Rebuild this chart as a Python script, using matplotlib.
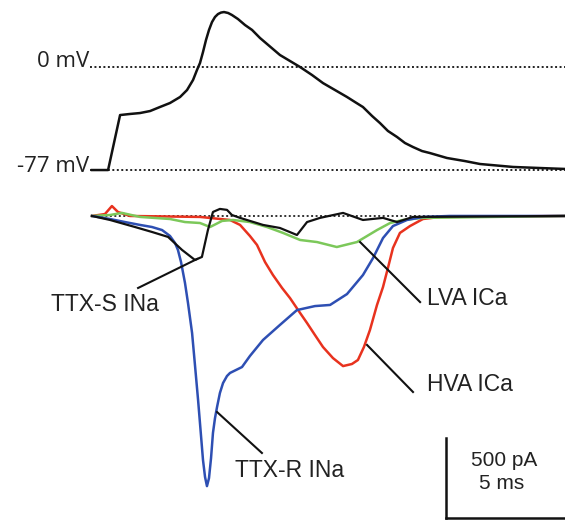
import matplotlib.pyplot as plt

# voltage command (ms, mV)
v_t = [0, 0.67, 1.17, 1.58, 2.0, 2.42, 2.83, 3.25, 3.67, 3.96, 4.21, 4.375, 4.5,
       4.625, 4.75, 4.875, 5.0, 5.125, 5.25, 5.375, 5.5, 5.67, 5.83, 6.08, 6.375,
       6.67, 7.0, 7.83, 8.25, 8.67, 9.17, 9.625, 10.125, 10.625, 10.96, 11.29,
       11.67, 12.0, 12.33, 12.71, 13.04, 13.375, 13.75, 14.08, 14.79, 15.54,
       16.17, 17.54, 18.67, 19.71]
v_mv = [-77, -77, -35.9, -35.1, -34.4, -32.9, -29.9, -26.9, -22.4, -17.2, -9.7,
        -2.2, 3.0, 11.2, 20.2, 27.7, 33.6, 37.4, 39.6, 40.7, 41.1, 40.4, 38.9,
        35.9, 31.4, 27.7, 21.7, 9.0, 4.5, 0, -6.0, -12.0, -17.2, -22.4, -26.2,
        -29.9, -36.6, -41.9, -47.8, -52.3, -56.8, -59.8, -62.8, -64.3, -68.0,
        -70.3, -72.5, -74.7, -75.5, -76.2]

# TTX-R INa (blue)
ttxr_t = [0, 0.75, 1.375, 2.0, 2.5, 2.92, 3.25, 3.46, 3.58, 3.71, 3.875, 4.0,
          4.17, 4.29, 4.42, 4.54, 4.625, 4.71, 4.79, 4.875, 4.96, 5.04, 5.125,
          5.21, 5.33, 5.46, 5.625, 5.75, 6.25, 6.58, 7.125, 7.83, 8.54, 9.29,
          9.92, 10.625, 11.29, 11.71, 12.125, 12.54, 13.125, 13.79, 14.9, 19.7]
ttxr_pa = [0, -19, -38, -56, -69, -88, -125, -169, -212, -288, -419, -544,
           -731, -931, -1150, -1369, -1525, -1631, -1688, -1638, -1513, -1356,
           -1263, -1194, -1106, -1044, -1000, -981, -944, -875, -775, -681, -588,
           -563, -556, -488, -369, -263, -138, -63, -25, -6, 0, 0]

# HVA ICa (red)
hva_t = [0, 0.54, 0.83, 1.08, 1.58, 4.5, 5.75, 6.17, 6.58, 6.875, 7.21, 7.54,
         7.92, 8.25, 8.67, 8.96, 9.29, 9.625, 10.04, 10.46, 10.83, 11.08, 11.33,
         11.58, 11.875, 12.125, 12.33, 12.54, 12.83, 13.25, 13.79, 14.5, 19.7]
hva_pa = [0, 12, 62, 25, 0, -6, -25, -56, -125, -181, -288, -369, -450, -513,
          -606, -669, -744, -819, -888, -938, -925, -900, -819, -713, -556, -444,
          -325, -200, -106, -63, -19, -6, 0]

# LVA ICa (green)
lva_t = [0, 0.75, 1.25, 2.0, 3.25, 3.875, 4.5, 4.92, 5.42, 5.875, 6.58, 7.29,
         7.96, 8.67, 9.375, 10.2, 11.04, 11.875, 12.42, 12.96, 13.79, 19.7]
lva_pa = [0, 6, 19, -6, -19, -38, -44, -69, -31, -25, -38, -69, -106, -150,
          -163, -194, -163, -88, -44, -25, -12, 0]

# TTX-S INa (black)
ttxs_t = [0, 0.75, 1.79, 2.5, 3.17, 3.75, 4.29, 4.58, 4.83, 5.04, 5.33, 5.625,
          5.83, 6.17, 7.125, 7.83, 8.54, 8.96, 9.5, 10.46, 11.29, 12.125, 12.71,
          13.375, 19.7]
ttxs_pa = [0, -25, -69, -100, -131, -212, -275, -256, -88, 25, 44, 38, 6, -12,
           -56, -75, -119, -38, -12, 19, -25, -12, -38, -6, 0]

XLIM = (-3.833, 19.708)
dotted = (0, (1, 1.3))

fig = plt.figure(figsize=(5.65, 5.21), dpi=100)

ax_v = fig.add_axes([0, 1 - 200 / 521, 1, 200 / 521])
ax_v.set_xlim(*XLIM)
ax_v.set_ylim(-99.4, 50.1)
ax_v.axis("off")
ax_v.plot([-0.08, XLIM[1]], [0, 0], color="#222222", lw=1.4, ls=dotted)
ax_v.plot([-0.08, XLIM[1]], [-77, -77], color="#222222", lw=1.4, ls=dotted)
ax_v.plot(v_t, v_mv, color="#111111", lw=1.8)
ax_v.text(-0.1, 4, "0 mV", ha="right", va="center", fontsize=16,
          family="Open Sans", color="#222222")
ax_v.text(-0.1, -74, "-77 mV", ha="right", va="center", fontsize=16,
          family="Open Sans", color="#222222")

ax_i = fig.add_axes([0, 0, 1, 326 / 521])
ax_i.set_xlim(*XLIM)
ax_i.set_ylim(-1906, 131)
ax_i.axis("off")
ax_i.plot([0, XLIM[1]], [0, 0], color="#333333", lw=1.4, ls=dotted)
ax_i.plot(hva_t, hva_pa, color="#e8321e", lw=1.8)
ax_i.plot(lva_t, lva_pa, color="#7cc85a", lw=1.8)
ax_i.plot(ttxr_t, ttxr_pa, color="#2e4fb3", lw=1.8)
ax_i.plot(ttxs_t, ttxs_pa, color="#111111", lw=1.6)

lab = dict(fontsize=16.5, family="Liberation Sans", color="#222222", va="center", ha="left")
ax_i.text(-1.7, -556, "TTX-S INa", **lab)
ax_i.text(5.96, -1588, "TTX-R INa", **lab)
ax_i.text(13.96, -513, "LVA ICa", **lab)
ax_i.text(13.96, -1056, "HVA ICa", **lab)

leaders = [((1.92, 4.375), (-450, -269)),
           ((5.21, 7.08), (-1225, -1481)),
           ((11.17, 13.67), (-163, -538)),
           ((11.46, 13.375), (-806, -1100))]
for xs, ys in leaders:
    ax_i.plot(xs, ys, color="#111111", lw=1.5)

# scale bar: 500 pA, 5 ms
ax_i.plot([14.75, 14.75], [-1390, -1890], color="#111111", lw=1.8)
ax_i.plot([14.75, 19.75], [-1890, -1890], color="#111111", lw=1.8)
ax_i.text(15.8, -1525, "500 pA", fontsize=15, family="Liberation Sans",
          color="#222222", va="center", ha="left")
ax_i.text(16.13, -1669, "5 ms", fontsize=15, family="Liberation Sans",
          color="#222222", va="center", ha="left")

fig.savefig("out.png", dpi=100)
